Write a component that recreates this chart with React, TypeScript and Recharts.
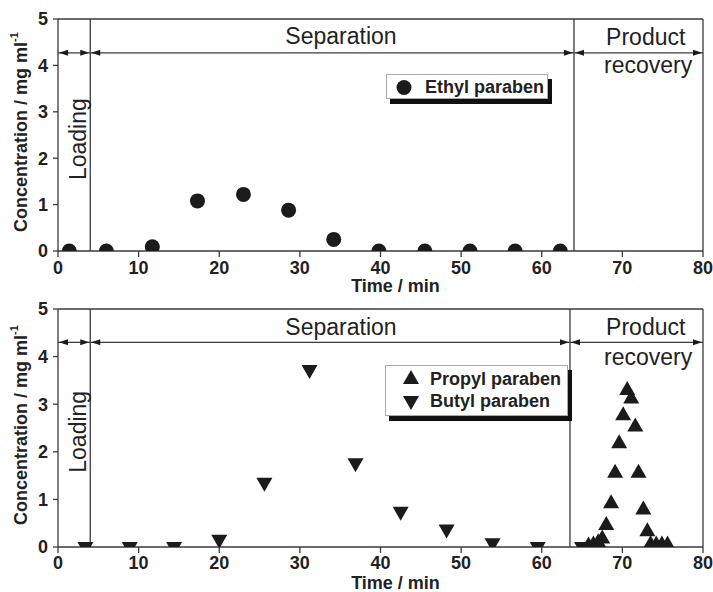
import { Label, Legend, ReferenceDot, ReferenceLine, Scatter, ScatterChart, XAxis, YAxis } from "recharts";

// Ethyl paraben (upper panel)
const ethylTime = [1.4, 6.0, 11.7, 17.3, 23.0, 28.6, 34.2, 39.8, 45.5, 51.1, 56.7, 62.3];
const ethylConc = [0, 0, 0.09, 1.08, 1.22, 0.88, 0.25, 0, 0, 0, 0, 0];

// Butyl paraben (lower panel)
const butylTime = [3.4, 8.9, 14.4, 20.0, 25.6, 31.2, 36.9, 42.5, 48.2, 53.9, 59.5, 65.0];
const butylConc = [0, 0, 0, 0.15, 1.35, 3.72, 1.76, 0.74, 0.37, 0.08, 0, 0];

// Propyl paraben (lower panel)
const propylTime = [65.8, 66.4, 67.0, 67.5, 68.0, 68.6, 69.1, 69.6, 70.1, 70.6, 71.1, 71.6, 72.0, 72.6, 73.1, 73.5, 74.2, 74.9, 75.6];
const propylConc = [0.03, 0.05, 0.1, 0.18, 0.46, 0.92, 1.56, 2.18, 2.77, 3.3, 3.12, 2.53, 1.56, 0.79, 0.33, 0.06, 0.05, 0.05, 0.05];

const xMajorTicks = [0, 10, 20, 30, 40, 50, 60, 70, 80];
const xMinorTicks = [5, 15, 25, 35, 45, 55, 65, 75];
const yTicks = [0, 1, 2, 3, 4, 5];

// phase boundaries (min) and the level of the arrow line (mg/ml)
const topPhases = [0, 4, 64, 80];
const bottomPhases = [0, 4, 63.5, 80];
const topArrowLevel = 4.27;
const bottomArrowLevel = 4.3;

const INK = "#1b1b1b";
const AXIS = "#3a3a3a";
const FONT = "'Liberation Sans', Arial, sans-serif";

type Pt = { t: number; c: number };
const zip = (ts: number[], cs: number[]): Pt[] => ts.map((t, i) => ({ t, c: cs[i] }));

const DotMark = (p: any) => <circle cx={p.cx} cy={p.cy} r={7.5} fill={INK} />;
const TriUp = (p: any) => (
  <polygon points={`${p.cx},${p.cy - 9} ${p.cx + 8},${p.cy + 5} ${p.cx - 8},${p.cy + 5}`} fill={INK} />
);
const TriDown = (p: any) => (
  <polygon points={`${p.cx},${p.cy + 9} ${p.cx + 8},${p.cy - 5} ${p.cx - 8},${p.cy - 5}`} fill={INK} />
);

const ArrowSeg = (p: any) => {
  const { x1, y1, x2 } = p;
  const L = 9;
  const W = 3;
  return (
    <g>
      <line x1={x1} y1={y1} x2={x2} y2={y1} stroke={AXIS} strokeWidth={1.3} />
      <polygon points={`${x1 + 1},${y1} ${x1 + 1 + L},${y1 - W} ${x1 + 1 + L},${y1 + W}`} fill={INK} />
      <polygon points={`${x2 - 1},${y1} ${x2 - 1 - L},${y1 - W} ${x2 - 1 - L},${y1 + W}`} fill={INK} />
    </g>
  );
};

const phaseText = (text: string, rotate = false) => (p: any) => (
  <text
    x={p.cx}
    y={p.cy}
    textAnchor="middle"
    dominantBaseline="central"
    fontSize={23}
    fill="#222"
    transform={rotate ? `rotate(-90, ${p.cx}, ${p.cy})` : undefined}
  >
    {text}
  </text>
);

const YTitle = (props: any) => {
  const vb = props.viewBox;
  const cx = vb.x + 21;
  const cy = vb.y + vb.height / 2 - 3;
  return (
    <text transform={`rotate(-90, ${cx}, ${cy})`} x={cx} y={cy} textAnchor="middle" dominantBaseline="central" fontSize={18} fontWeight="bold" fill="#222">
      <tspan>Concentration / mg ml</tspan>
      <tspan fontSize={11} dy={-7}>-1</tspan>
    </text>
  );
};

const xTitle = (offset: number) => (props: any) => {
  const vb = props.viewBox;
  return (
    <text x={vb.x + vb.width / 2 + 15} y={vb.y + offset} textAnchor="middle" dominantBaseline="central" fontSize={18} fontWeight="bold" fill="#222">
      Time / min
    </text>
  );
};

type LegendItem = { name: string; shape: (p: any) => any };

const legendContent = (items: LegendItem[], w: number, h: number, markX: number, textX: number, rowH: number, top: number) => () => (
  <div style={{ width: w, height: h, background: "#fff", border: "1px solid #aaa", boxShadow: "4px 5px 0 #111", position: "relative", fontFamily: FONT }}>
    {items.map((it, i) => (
      <div key={it.name} style={{ position: "absolute", left: 0, top: top + i * rowH - rowH / 2, height: rowH, width: w }}>
        <svg width={24} height={rowH} style={{ position: "absolute", left: markX - 12, top: 0 }}>
          {it.shape({ cx: 12, cy: rowH / 2 })}
        </svg>
        <span style={{ position: "absolute", left: textX, top: 0, lineHeight: `${rowH}px`, fontSize: 18, fontWeight: "bold", color: "#222", whiteSpace: "nowrap" }}>
          {it.name}
        </span>
      </div>
    ))}
  </div>
);

type Series = { name: string; data: Pt[]; shape: (p: any) => any };

function Panel(props: {
  height: number;
  xAxisHeight: number;
  bottomMargin: number;
  titleOffset: number;
  tickMargin: number;
  series: Series[];
  legendItems: LegendItem[];
  legend: { left: number; top: number; w: number; h: number; markX: number; textX: number; rowH: number; rowTop: number };
  phases: number[];
  arrowLevel: number;
  loadingY: number;
}) {
  const { phases, arrowLevel, legend } = props;
  const sepMid = 35.1;
  const prodMid = 72.9;
  return (
    <ScatterChart width={713} height={props.height} margin={{ top: 19, right: 10, bottom: props.bottomMargin, left: 0 }}>
      <XAxis xAxisId="minor" type="number" dataKey="t" domain={[0, 80]} allowDataOverflow ticks={xMinorTicks} tick={false} axisLine={false} tickSize={3} tickLine={{ stroke: AXIS, strokeWidth: 1.2 }} height={0} />
      <XAxis
        type="number"
        dataKey="t"
        domain={[0, 80]}
        allowDataOverflow
        ticks={xMajorTicks}
        tickSize={6}
        tickMargin={props.tickMargin}
        height={props.xAxisHeight}
        stroke={AXIS}
        strokeWidth={1.3}
        tick={{ fill: "#222", fontSize: 18, fontWeight: "bold" }}
      >
        <Label content={xTitle(props.titleOffset)} />
      </XAxis>
      <YAxis
        type="number"
        dataKey="c"
        domain={[0, 5]}
        allowDataOverflow
        ticks={yTicks}
        width={58}
        tickSize={5}
        tickMargin={5}
        stroke={AXIS}
        strokeWidth={1.3}
        tick={{ fill: "#222", fontSize: 18, fontWeight: "bold" }}
      >
        <Label content={YTitle} />
      </YAxis>
      <ReferenceLine y={5} stroke={AXIS} strokeWidth={1.3} />
      <ReferenceLine x={80} stroke={AXIS} strokeWidth={1.3} />
      {phases.slice(1, -1).map((b) => (
        <ReferenceLine key={`v${b}`} x={b} stroke={AXIS} strokeWidth={1.3} />
      ))}
      {phases.slice(0, -1).map((a, i) => (
        <ReferenceLine key={`s${a}`} segment={[{ x: a, y: arrowLevel }, { x: phases[i + 1], y: arrowLevel }]} shape={ArrowSeg} />
      ))}
      <ReferenceDot x={sepMid} y={4.63} r={0} shape={phaseText("Separation")} />
      <ReferenceDot x={prodMid} y={4.62} r={0} shape={phaseText("Product")} />
      <ReferenceDot x={prodMid + 0.3} y={4.0} r={0} shape={phaseText("recovery")} />
      <ReferenceDot x={2.45} y={props.loadingY} r={0} shape={phaseText("Loading", true)} />
      {props.series.map((s) => (
        <Scatter key={s.name} name={s.name} data={s.data} shape={s.shape} isAnimationActive={false} />
      ))}
      <Legend
        layout="vertical"
        align="center"
        verticalAlign="middle"
        wrapperStyle={{ left: legend.left, top: legend.top, width: "auto", height: "auto" }}
        content={legendContent(props.legendItems, legend.w, legend.h, legend.markX, legend.textX, legend.rowH, legend.rowTop)}
      />
    </ScatterChart>
  );
}

export default function App() {
  const ethyl = zip(ethylTime, ethylConc);
  const butyl = zip(butylTime, butylConc);
  const propyl = zip(propylTime, propylConc);
  return (
    <div style={{ position: "absolute", left: 0, top: 0, width: 713, height: 592, background: "#fff", fontFamily: FONT }}>
      <style>{`.recharts-surface { overflow: visible; }`}</style>
      <Panel
        height={290}
        xAxisHeight={30}
        bottomMargin={9}
        titleOffset={35}
        tickMargin={4}
        series={[{ name: "Ethyl paraben", data: ethyl, shape: DotMark }]}
        legendItems={[{ name: "Ethyl paraben", shape: DotMark }]}
        legend={{ left: 386, top: 74, w: 160, h: 23, markX: 17, textX: 38, rowH: 23, rowTop: 12 }}
        phases={topPhases}
        arrowLevel={topArrowLevel}
        loadingY={2.41}
      />
      <Panel
        height={302}
        xAxisHeight={35}
        bottomMargin={10}
        titleOffset={36}
        tickMargin={3}
        series={[
          { name: "Butyl paraben", data: butyl, shape: TriDown },
          { name: "Propyl paraben", data: propyl, shape: TriUp },
        ]}
        legendItems={[
          { name: "Propyl paraben", shape: TriUp },
          { name: "Butyl paraben", shape: TriDown },
        ]}
        legend={{ left: 385, top: 75, w: 181, h: 49, markX: 25, textX: 44, rowH: 22, rowTop: 13 }}
        phases={bottomPhases}
        arrowLevel={bottomArrowLevel}
        loadingY={2.42}
      />
    </div>
  );
}
